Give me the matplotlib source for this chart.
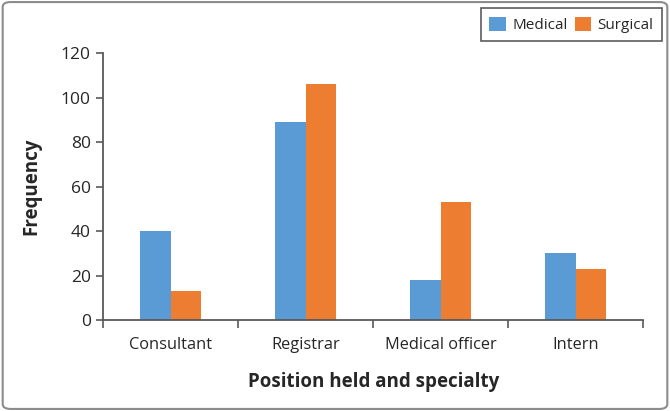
import matplotlib
matplotlib.use("Agg")
import matplotlib.pyplot as plt
import numpy as np
from matplotlib.patches import FancyBboxPatch

positions = ["Consultant", "Registrar", "Medical officer", "Intern"]
medical = [40, 89, 18, 30]
surgical = [13, 106, 53, 23]

plt.rcParams['font.family'] = ['Open Sans', 'DejaVu Sans']
txt = '#262626'
axc = '#595959'

fig = plt.figure(figsize=(6.7, 4.11), dpi=100)
ax = fig.add_axes([0.154, 0.2214, 0.806, 0.6496])

x = np.arange(len(positions))
w = 0.225
ax.bar(x - w/2, medical, w, color='#5B9BD5', label='Medical')
ax.bar(x + w/2, surgical, w, color='#ED7D31', label='Surgical')

ax.set_xlim(-0.5, len(positions) - 0.5)
ax.set_ylim(0, 120)
ax.set_yticks(range(0, 121, 20))
ax.set_xticks(x)
ax.set_xticklabels(positions, fontsize=11.8, color=txt)
ax.tick_params(axis='x', length=0, pad=12)
ax.set_xticks(np.arange(-0.5, len(positions)), minor=True)
ax.tick_params(axis='x', which='minor', length=6, width=1.2, color=axc)
ax.tick_params(axis='y', length=5, width=1.2, color=axc, labelsize=12.5, labelcolor=txt, pad=4)

for s in ['top', 'right']:
    ax.spines[s].set_visible(False)
for s in ['left', 'bottom']:
    ax.spines[s].set_color(axc)
    ax.spines[s].set_linewidth(1.3)

ax.set_ylabel('Frequency', fontsize=13.5, fontweight='bold', color=txt, labelpad=14)
ax.set_xlabel('Position held and specialty', fontsize=13.5, fontweight='bold', color=txt, labelpad=14)

leg = fig.legend(loc='upper right', bbox_to_anchor=(0.988, 0.98), ncol=2, fontsize=11,
                 frameon=True, fancybox=False, edgecolor='#333333', borderaxespad=0,
                 handlelength=1.05, handleheight=1.05, handletextpad=0.45, columnspacing=0.45,
                 borderpad=0.55, labelcolor=txt)
leg.get_frame().set_linewidth(1.2)

border = FancyBboxPatch((0.004, 0.005), 0.992, 0.99, boxstyle="round,pad=0,rounding_size=0.012",
                        transform=fig.transFigure, fill=False, edgecolor='#8c8c8c', linewidth=1.5)
fig.patches.append(border)

fig.savefig('out.png', dpi=100)
